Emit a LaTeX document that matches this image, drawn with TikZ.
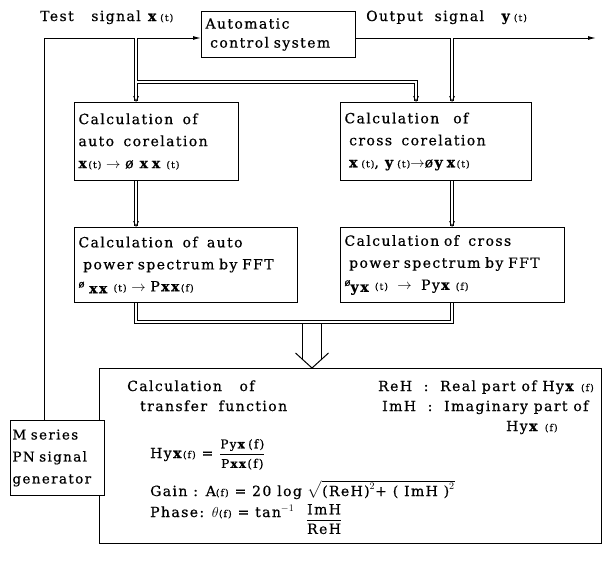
\documentclass[tikz,border=0pt]{standalone}
\usepackage{amsmath}
\usepackage{fontspec}
\setmainfont{DejaVu Serif}[LetterSpace=10,FakeBold=0.6]
\usetikzlibrary{arrows.meta,calc}
\newcommand{\vx}{\textbf{x}}
\newcommand{\vy}{\textbf{y}}
\newcommand{\sm}[1]{{\fontsize{9.5}{11}\selectfont #1}}
\newcommand{\fr}[1]{{\fontsize{12}{14}\selectfont #1}}
\newcommand{\phisup}{\raisebox{4pt}{\fontsize{10}{12}\selectfont ø}}
\begin{document}
\begin{tikzpicture}[x=1pt,y=-1pt,
  lw/.style={line width=1pt},
  box/.style={draw, lw, fill=white, anchor=north west, inner sep=4pt, align=left,
    font=\fontsize{14}{22}\selectfont},
  dbl/.style={draw, double, double distance=2.4pt, line width=0.75pt},
  dtip/.style={dbl, -{Straight Barb[length=5pt,width=5pt]}},
  lbl/.style={anchor=base west, inner sep=0pt, font=\fontsize{14}{16}\selectfont},
  stip/.style={lw, -{Latex[length=8pt,width=4pt]}}
]
\useasboundingbox (0,0) rectangle (607,562);
% blocks
\node[box, minimum width=154pt, minimum height=46pt, text width=146pt, inner sep=3pt] (acs) at (201,11)
  {Automatic\\[-3pt]\ control system};
\node[box, minimum width=164pt, minimum height=78pt, text width=156pt] (c1) at (74,102)
  {Calculation\ \ of\\auto\ \ corelation\\\vx\sm{(t)} $\rightarrow$ ø \vx\,\vx\ \sm{(t)}};
\node[box, minimum width=191pt, minimum height=78pt, text width=183pt] (c2) at (340,102)
  {Calculation\ \ \ of\\\ cross\ \ corelation\\\ \vx\,\sm{(t)}, \vy\,\sm{(t)}$\rightarrow$ø\vy\,\vx\sm{(t)}};
\node[box, minimum width=223pt, minimum height=75pt, text width=215pt, inner sep=3pt] (c3) at (74,227)
  {Calculation\ \ of\ \ auto\\\ power spectrum by FFT\\\phisup\raisebox{-2pt}{\ \vx\vx}\ \sm{(t)} $\rightarrow$ P\vx\vx\sm{(f)}};
\node[box, minimum width=224pt, minimum height=75pt, text width=216pt, inner sep=3pt] (c4) at (340,227)
  {Calculation of\ \ cross\\\ power spectrum by FFT\\\phisup\raisebox{-2pt}{\vy\vx}\ \sm{(t)} \ $\rightarrow$\ \ Py\vx\ \sm{(f)}};
\node[draw, lw, anchor=north west, minimum width=502pt, minimum height=175pt] (tf) at (99,368) {};
\node[box, minimum width=94pt, minimum height=75pt, text width=90pt, inner sep=2pt,
  font=\fontsize{13.5}{22}\selectfont] (gen) at (10,420)
  {M series\\PN signal\\generator};
% labels
\node[lbl] (lt) at (40,21) {Test\ \ \ signal \vx\,\sm{(t)}};
\node[lbl] (lo) at (366,21) {Output\ \ signal\ \ \ \vy\,\sm{(t)}};
\node[lbl] (t1) at (127,391) {Calculation\ \ \ of};
\node[lbl] (t2) at (140,411) {transfer\ \ function};
\node[lbl] (t3) at (378,391) {ReH\ \ :\ \ Real part of Hy\vx\ \sm{(f)}};
\node[lbl] (t4) at (382,411) {ImH\ \ :\ \ Imaginary part of};
\node[lbl] (t5) at (506,431) {Hy\vx\ \sm{(f)}};
\node[lbl] (t6) at (150,458) {Hy\vx\sm{(f)} = $\dfrac{\text{\fr{Py\vx\,(f)}}}{\text{\fr{P\vx\vx(f)}}}$};
\node[lbl] (t7) at (150,496) {Gain : A\sm{(f)} = 20 log $\sqrt{\text{(ReH)}^2\text{+ ( ImH )}^2}$};
\node[lbl] (t8) at (150,517) {Phase: $\theta$\sm{(f)} = tan$^{-1}$ \ \raisebox{-7pt}{$\dfrac{\text{ImH}}{\text{ReH}}$}};
% helper coordinates
\coordinate (inL) at (44,38);
\coordinate (xl) at (136,0);
\coordinate (xr) at (452,0);
\coordinate (xm) at (416,0);
\coordinate (hb) at (137.2,82);
\coordinate (oe) at (596,38);
\coordinate (ua) at (312,322);
\coordinate (tip) at (tf.north -| ua);
% single-line signal path
\draw[stip] (gen.north -| inL) -- (inL) -- (acs.west |- inL);
\draw[stip] (acs.east |- inL) -- (oe);
% double connectors
\draw[dtip] (xl |- inL) -- (c1.north -| xl);
\draw[dtip] (hb) -| (c2.north -| xm);
\draw[dtip] (xr |- inL) -- (c2.north -| xr);
\draw[dtip] (c1.south -| xl) -- (c3.north -| xl);
\draw[dtip] (c2.south -| xr) -- (c4.north -| xr);
\draw[dbl] (c3.south -| xl) |- (ua) -| (c4.south -| xr);
% hollow arrow
\draw[lw] ($(ua)+(-9.5,1.5)$) -- ($(tip)+(-9.5,-8.6)$);
\draw[lw] ($(ua)+(9.5,1.5)$) -- ($(tip)+(9.5,-8.6)$);
\draw[lw] ($(tip)+(-16.5,-15)$) -- (tip) -- ($(tip)+(16.5,-15)$);
\end{tikzpicture}
\end{document}
